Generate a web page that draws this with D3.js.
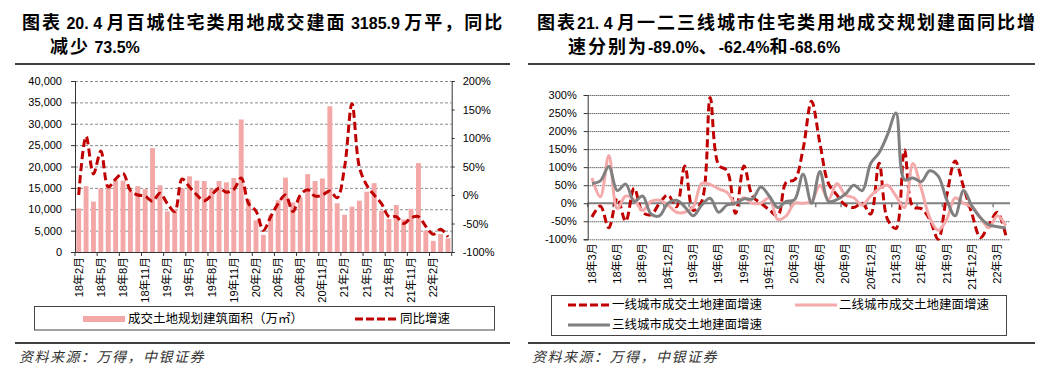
<!DOCTYPE html>
<html>
<head>
<meta charset="utf-8">
<script src="https://cdn.jsdelivr.net/npm/d3@7"></script>
<style>
  body { margin: 0; background: #fff; }
  svg text { font-family: "Liberation Sans", "Noto Sans CJK SC", sans-serif; white-space: pre; }
</style>
</head>
<body>
<svg id="chart" width="1053" height="380"></svg>
<script>
// ---------- data: left chart (monthly, 18年2月 - 22年4月)
const monthsLeft = [
  "18年2月","18年3月","18年4月","18年5月","18年6月","18年7月","18年8月","18年9月","18年10月","18年11月","18年12月",
  "19年1月","19年2月","19年3月","19年4月","19年5月","19年6月","19年7月","19年8月","19年9月","19年10月","19年11月","19年12月",
  "20年1月","20年2月","20年3月","20年4月","20年5月","20年6月","20年7月","20年8月","20年9月","20年10月","20年11月","20年12月",
  "21年1月","21年2月","21年3月","21年4月","21年5月","21年6月","21年7月","21年8月","21年9月","21年10月","21年11月","21年12月",
  "22年1月","22年2月","22年3月","22年4月"
];
// 成交土地规划建筑面积（万㎡）
const landArea = [
  10200,15400,11800,14800,15800,16700,16700,14200,15400,14700,24300,
  15600,9500,10000,14900,17700,16700,16600,14800,16600,16300,17300,31000,
  12300,7400,4000,8600,12100,17400,11600,12800,18200,16600,17200,34100,
  11400,8700,10600,12000,14100,16100,9600,7700,11000,7600,10100,20800,
  5000,2600,4200,3185.9
];
// 同比增速（%）
const landYoY = [
  0,103,37,77,14,28,38,8,0,-2,-11,
  3,-15,-29,28,14,0,-10,0,12,5,10,30,
  -15,-28,-62,-38,-15,0,-29,0,9,-2,0,7,
  -5,49,160,49,17,0,-15,-38,-38,-50,-40,-38,
  -55,-69,-60,-73.5
];
const areaTicks = [0,5000,10000,15000,20000,25000,30000,35000,40000];
const yoyTicks = [-100,-50,0,50,100,150,200];

// ---------- data: right chart (monthly, 18年3月 - 22年4月)
const monthsRight = [
  "18年3月","18年4月","18年5月","18年6月","18年7月","18年8月","18年9月","18年10月","18年11月","18年12月",
  "19年1月","19年2月","19年3月","19年4月","19年5月","19年6月","19年7月","19年8月","19年9月","19年10月","19年11月","19年12月",
  "20年1月","20年2月","20年3月","20年4月","20年5月","20年6月","20年7月","20年8月","20年9月","20年10月","20年11月","20年12月",
  "21年1月","21年2月","21年3月","21年4月","21年5月","21年6月","21年7月","21年8月","21年9月","21年10月","21年11月","21年12月",
  "22年1月","22年2月","22年3月","22年4月"
];
const tier1 = [
  -38,-8,-68,14,-50,42,-25,-32,0,23,
  -10,103,-20,5,293,106,90,-28,103,20,0,-18,
  -35,58,65,150,283,165,55,23,-5,-12,0,-30,
  111,-45,-70,148,-10,-15,-45,-100,20,117,45,-30,
  -95,-60,-25,-89
];
const tier2 = [
  70,18,132,-15,20,10,-20,5,8,-5,
  -25,-25,-10,55,52,40,30,0,15,0,0,15,
  -45,-35,0,0,5,50,10,55,23,15,-5,20,
  40,50,20,-12,110,40,-40,-75,-45,15,0,-10,
  -40,-68,-35,-62.4
];
const tier3 = [
  55,62,102,35,53,5,20,-30,-35,0,
  8,-10,-35,-5,14,-25,-5,0,12,12,45,20,
  -12,5,10,80,0,88,5,10,25,50,35,110,
  140,190,250,65,70,60,90,75,10,-35,35,-8,
  -40,-60,-65,-68.6
];
const pctTicks = [-100,-50,0,50,100,150,200,250,300];

const seriesRight = [
  { name: "一线城市成交土地建面增速", values: tier1, color: "#C00000", dash: "8,4" },
  { name: "二线城市成交土地建面增速", values: tier2, color: "#F4AAAA", dash: null },
  { name: "三线城市成交土地建面增速", values: tier3, color: "#808080", dash: null },
];

const svg = d3.select("#chart");

// ---------- titles, rules and sources
function title(x, y, str) {
  const t = svg.append("text").attr("x", x).attr("y", y).attr("font-weight", "bold").attr("fill", "#000");
  str.match(/[\u3000-\u9fff\uff00-\uffef]+|[^\u3000-\u9fff\uff00-\uffef]+/g).forEach(s => {
    const cjk = /[\u3000-\u9fff\uff00-\uffef]/.test(s);
    t.append("tspan").text(s)
      .style("font-family", cjk ? "'Noto Sans CJK SC'" : "'Liberation Sans'")
      .style("font-size", cjk ? "18px" : "16px")
      .style("letter-spacing", cjk ? "2px" : "0px");
  });
}
title(22, 29, "图表 20. 4 月百城住宅类用地成交建面 3185.9 万平，同比");
title(50, 53, "减少 73.5%");
title(537, 29, "图表21. 4 月一二三线城市住宅类用地成交规划建面同比增");
title(568, 53, "速分别为-89.0%、-62.4%和-68.6%");

[[15, 510], [528, 1035]].forEach(([a, b]) => {
  svg.append("line").attr("x1", a).attr("x2", b).attr("y1", 64).attr("y2", 64).attr("stroke", "#000").attr("stroke-width", 1.3);
  svg.append("line").attr("x1", a).attr("x2", b).attr("y1", 343).attr("y2", 343).attr("stroke", "#000").attr("stroke-width", 1.3);
  svg.append("text").attr("x", a + 4).attr("y", 362).text("资料来源：万得，中银证券")
    .style("font-family", "'Noto Sans CJK SC'").style("font-style", "italic")
    .style("font-size", "14px").style("letter-spacing", "1.5px").attr("fill", "#333");
});

// ---------- left chart
const L = { left: 75, right: 451.7, top: 81, bottom: 252 };
const x1 = d3.scaleBand().domain(monthsLeft).range([L.left, L.right]).paddingInner(0.34).paddingOuter(0.17);
const yArea = d3.scaleLinear().domain([0, 40000]).range([L.bottom, L.top]);
const yYoy = d3.scaleLinear().domain([-100, 200]).range([L.bottom, L.top]);
const g1 = svg.append("g");

// gridlines
g1.append("g")
  .attr("transform", `translate(${L.left},0)`)
  .call(d3.axisLeft(yArea).tickValues(areaTicks.slice(1)).tickSize(-(L.right - L.left)).tickFormat(""))
  .call(g => g.select(".domain").remove())
  .selectAll("line").attr("stroke", "#8a8a8a").attr("stroke-dasharray", "3,2");

// bars
g1.append("g").selectAll("rect")
  .data(landArea)
  .join("rect")
  .attr("x", (d, i) => x1(monthsLeft[i]))
  .attr("y", d => yArea(d))
  .attr("width", x1.bandwidth())
  .attr("height", d => L.bottom - yArea(d))
  .attr("fill", "#F3A7A7");

// yoy line
const lineLeft = d3.line()
  .x((d, i) => x1(monthsLeft[i]) + x1.bandwidth() / 2)
  .y(d => yYoy(d))
  .curve(d3.curveCatmullRom);
g1.append("path")
  .datum(landYoY)
  .attr("d", lineLeft)
  .attr("fill", "none")
  .attr("stroke", "#C00000")
  .attr("stroke-width", 3)
  .attr("stroke-dasharray", "8,4");

// axes
const gL = g1.append("g").attr("transform", `translate(${L.left},0)`)
  .call(d3.axisLeft(yArea).tickValues(areaTicks).tickFormat(d3.format(",")).tickSize(4).tickPadding(9));
const gR = g1.append("g").attr("transform", `translate(${L.right},0)`)
  .call(d3.axisRight(yYoy).tickValues(yoyTicks).tickFormat(d => d + "%").tickSize(3).tickPadding(8));
[gL, gR].forEach(g => {
  g.selectAll("text").style("font-size", "11px").attr("fill", "#000");
  g.selectAll("line, path").attr("stroke", "#333");
});

const labelsLeft = monthsLeft.filter((d, i) => i % 3 === 0);
const gB = g1.append("g").attr("transform", `translate(0,${L.bottom})`)
  .call(d3.axisBottom(x1).tickValues(labelsLeft).tickSize(0));
gB.select(".domain").attr("stroke", "#333");
gB.selectAll("text")
  .attr("transform", "rotate(-90)")
  .attr("x", -5).attr("y", 0).attr("dy", "0.35em")
  .style("text-anchor", "end").style("font-size", "11px").attr("fill", "#000");
// tick marks on category boundaries
g1.append("g").selectAll("line").data(labelsLeft.concat(["end"])).join("line")
  .attr("x1", d => d === "end" ? L.right : x1(d) - x1.step() * x1.paddingInner() / 2)
  .attr("x2", d => d === "end" ? L.right : x1(d) - x1.step() * x1.paddingInner() / 2)
  .attr("y1", L.bottom).attr("y2", L.bottom + 4)
  .attr("stroke", "#333");

// legend
const lg1 = svg.append("g");
lg1.append("rect").attr("x", 34.5).attr("y", 306.5).attr("width", 460).attr("height", 23.5)
  .attr("fill", "none").attr("stroke", "#444");
lg1.append("rect").attr("x", 83).attr("y", 316).attr("width", 42).attr("height", 6).attr("fill", "#F3A7A7");
lg1.append("text").attr("x", 128).attr("y", 319).attr("dy", "0.35em").text("成交土地规划建筑面积（万㎡）")
  .style("font-size", "12.5px").attr("fill", "#000");
lg1.append("line").attr("x1", 355).attr("x2", 397).attr("y1", 319).attr("y2", 319)
  .attr("stroke", "#C00000").attr("stroke-width", 3).attr("stroke-dasharray", "8,3");
lg1.append("text").attr("x", 400).attr("y", 319).attr("dy", "0.35em").text("同比增速")
  .style("font-size", "12.5px").attr("fill", "#000");

// ---------- right chart
const R = { left: 587.7, right: 1010, top: 95, bottom: 239.3 };
const x2 = d3.scaleBand().domain(monthsRight).range([R.left, R.right]).paddingInner(0).paddingOuter(0);
const y2 = d3.scaleLinear().domain([-100, 300]).range([R.bottom, R.top]);
const g2 = svg.append("g");

g2.append("g")
  .attr("transform", `translate(${R.left},0)`)
  .call(d3.axisLeft(y2).tickValues(pctTicks.filter(d => d !== 0)).tickSize(-(R.right - R.left)).tickFormat(""))
  .call(g => g.select(".domain").remove())
  .selectAll("line").attr("stroke", "#222").attr("stroke-dasharray", "1,1");

// zero axis line
g2.append("line").attr("x1", R.left).attr("x2", R.right).attr("y1", y2(0)).attr("y2", y2(0))
  .attr("stroke", "#808080").attr("stroke-width", 2);
const labelsRight = monthsRight.filter((d, i) => i % 3 === 0);
g2.append("g").selectAll("line").data(labelsRight).join("line")
  .attr("x1", d => x2(d)).attr("x2", d => x2(d))
  .attr("y1", y2(0)).attr("y2", y2(0) + 4)
  .attr("stroke", "#808080").attr("stroke-width", 1.5);

const lineRight = d3.line()
  .x((d, i) => x2(monthsRight[i]) + x2.bandwidth() / 2)
  .y(d => y2(d))
  .curve(d3.curveCatmullRom);
g2.append("g").selectAll("path")
  .data(seriesRight)
  .join("path")
  .attr("d", d => lineRight(d.values))
  .attr("fill", "none")
  .attr("stroke", d => d.color)
  .attr("stroke-width", 3)
  .attr("stroke-dasharray", d => d.dash);

const gY2 = g2.append("g").attr("transform", `translate(${R.left},0)`)
  .call(d3.axisLeft(y2).tickValues(pctTicks).tickFormat(d => d + "%").tickSize(4).tickPadding(7));
gY2.selectAll("text").style("font-size", "11px").attr("fill", "#000");
gY2.selectAll("line, path").attr("stroke", "#333");

const gX2 = g2.append("g").attr("transform", `translate(0,${R.bottom})`)
  .call(d3.axisBottom(x2).tickValues(labelsRight).tickSize(0));
gX2.select(".domain").remove();
gX2.selectAll("text")
  .attr("transform", "rotate(-90)")
  .attr("x", -4).attr("y", 0).attr("dy", "0.35em")
  .style("text-anchor", "end").style("font-size", "11px").attr("fill", "#000");

// legend
const lg2 = svg.append("g");
lg2.append("rect").attr("x", 551.5).attr("y", 295.5).attr("width", 455).attr("height", 40)
  .attr("fill", "none").attr("stroke", "#444");
const legPos = [[568, 305], [795, 305], [568, 325]];
seriesRight.forEach((s, i) => {
  const [lx, ly] = legPos[i];
  lg2.append("line").attr("x1", lx).attr("x2", lx + 42).attr("y1", ly).attr("y2", ly)
    .attr("stroke", s.color).attr("stroke-width", 3).attr("stroke-dasharray", s.dash ? "8,3" : null);
  lg2.append("text").attr("x", lx + 44).attr("y", ly).attr("dy", "0.35em").text(s.name)
    .style("font-size", "12.5px").attr("fill", "#000");
});
</script>
</body>
</html>
